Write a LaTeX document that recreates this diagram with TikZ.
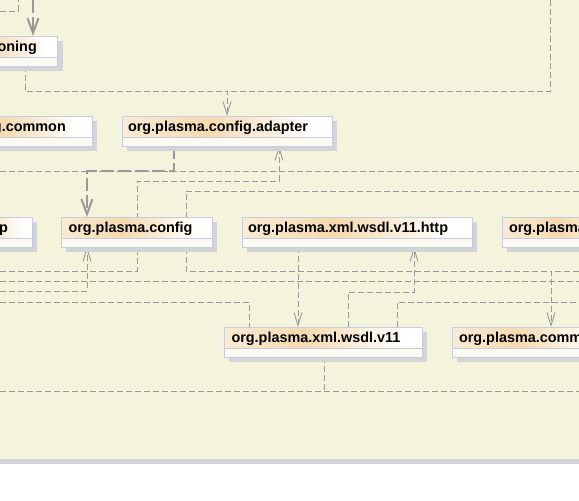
\documentclass[tikz,border=0pt]{standalone}
\usepackage{fontspec}
\setmainfont{Liberation Sans}
\usetikzlibrary{arrows.meta,shadows,calc}
\pgfdeclarelayer{back}
\pgfdeclarelayer{edges}
\pgfsetlayers{back,edges,main}
\definecolor{beigebg}{RGB}{244,244,220}
\definecolor{bandgrey}{RGB}{212,212,212}
\definecolor{bordc}{RGB}{199,204,224}
\definecolor{shadc}{RGB}{212,212,215}
\definecolor{linec}{RGB}{153,153,153}
\definecolor{bodyc}{RGB}{250,250,240}
\definecolor{hdrA}{RGB}{250,235,212}
\definecolor{hdrB}{RGB}{245,217,175}
\tikzset{
  pkg/.style={draw=bordc, line width=1pt, fill=bodyc, rectangle, anchor=north west,
    minimum height=30pt, inner sep=0pt, outer sep=0pt,
    general shadow={shadow xshift=5pt, shadow yshift=-4.5pt, fill=shadc},
    path picture={
      \coordinate (pw) at (path picture bounding box.north west);
      \coordinate (pe) at (path picture bounding box.north east);
      \shade[left color=hdrA, right color=hdrB] (pw) rectangle ($(pw)!0.405!(pe)+(0,-21pt)$);
      \shade[left color=hdrB, right color=white] ($(pw)!0.4!(pe)$) rectangle ($(pw)!0.905!(pe)+(0,-21pt)$);
      \fill[white] ($(pw)!0.9!(pe)$) rectangle ($(pe)+(0,-21pt)$);
      \draw[bordc, line width=1pt] ($(pw)+(0,-21pt)$) -- ($(pe)+(0,-21pt)$);
    }},
  txt/.style={font=\fontsize{14.4}{17}\selectfont\bfseries, inner sep=0pt, outer sep=0pt, anchor=base west},
  txtr/.style={txt, anchor=base east},
  dep/.style={draw=linec, line width=0.9pt, dash pattern=on 6pt off 3pt},
  deparr/.style={dep, -{Straight Barb[length=13pt,width=8pt]}},
  heavy/.style={draw=linec, line width=2pt, dash pattern=on 13pt off 4pt, -{Straight Barb[length=15pt,width=11pt]}},
}
\begin{document}
\begin{tikzpicture}[x=1pt,y=-1pt]
\useasboundingbox (0,0) rectangle (579,501);
\begin{pgfonlayer}{back}
  \fill[white] (0,0) rectangle (579,501);
  \fill[beigebg] (0,0) rectangle (579,459);
  \fill[bandgrey] (0,459) rectangle (579,464);
\end{pgfonlayer}
\clip (0,0) rectangle (579,501);
% packages
\node[pkg, minimum width=117.5pt] (oning) at (-60,36) {};
\node[pkg, minimum width=152pt] (gcom) at (-60,116) {};
\node[pkg, minimum width=210pt] (adp) at (122,116) {};
\node[pkg, minimum width=92pt] (pnode) at (-60,217) {};
\node[pkg, minimum width=151pt] (cfg) at (61,217) {};
\node[pkg, minimum width=230pt] (http) at (242,217) {};
\node[pkg, minimum width=140pt] (orgpl) at (502,217) {};
\node[pkg, minimum width=198pt] (wsdl) at (224,327) {};
\node[pkg, minimum width=160pt] (comm) at (452,327) {};
% labels
\node[txtr] (oningt) at (36.8,51.5) {oning};
\node[txtr] (gcomt) at (65.8,131.5) {g.common};
\node[txt] (adpt) at (128,131.5) {org.plasma.config.adapter};
\node[txtr] (pnodet) at (8,232.5) {p};
\node[txt] (cfgt) at (68.5,232.5) {org.plasma.config};
\node[txt] (httpt) at (248,232.5) {org.plasma.xml.wsdl.v11.http};
\node[txt] (orgplt) at (509,232.5) {org.plasma};
\node[txt] (wsdlt) at (231.5,342.5) {org.plasma.xml.wsdl.v11};
\node[txt] (commt) at (459,342.5) {org.plasma.comm};
% connectors
\begin{pgfonlayer}{edges}
  \clip (0,0) rectangle (579,501);
  \coordinate (t1) at (33,0);
  \coordinate (a0) at (0,11);
  \coordinate (a1) at (18.3,0);
  \coordinate (c25) at (25,91);
  \coordinate (c227) at (227,91);
  \coordinate (r0) at (550.5,0);
  \coordinate (l171) at (0,171);
  \coordinate (r171) at (579,171);
  \coordinate (c174) at (174,171);
  \coordinate (c87) at (87,171);
  \coordinate (l271) at (0,271);
  \coordinate (c137a) at (137,271);
  \coordinate (c137b) at (137,181);
  \coordinate (c279) at (279,181);
  \coordinate (r191) at (579,191);
  \coordinate (c186a) at (186,191);
  \coordinate (c186b) at (186,271);
  \coordinate (c551) at (551,271);
  \coordinate (r271) at (579,271);
  \coordinate (l281) at (0,281);
  \coordinate (r281) at (579,281);
  \coordinate (l291) at (0,291);
  \coordinate (c87b) at (87,291);
  \coordinate (c298) at (298,300);
  \coordinate (c348) at (348,292);
  \coordinate (c414) at (414,292);
  \coordinate (l302) at (0,302);
  \coordinate (c249) at (249,302);
  \coordinate (c397) at (397,302);
  \coordinate (r302) at (579,302);
  \coordinate (c324) at (324,391);
  \coordinate (l391) at (0,391);
  \coordinate (r391) at (579,391);
  \draw[heavy] (t1) -- (oning.north -| t1);
  \draw[dep] (a0) -| (a1);
  \draw[deparr] (oning.south -| c25) -- (c25) -- (c227) -- (adp.north -| c227);
  \draw[dep] (r0) |- (c227);
  \draw[dep] (l171) -- (r171);
  \draw[heavy] (adp.south -| c174) -- (c174) -- (c87) -- (cfg.north -| c87);
  \draw[deparr] (l271) -- (c137a) -- (c137b) -- (c279) -- (adp.south -| c279);
  \draw[deparr] (r191) -- (c186a) -- (c186b) -- (c551) -- (comm.north -| c551);
  \draw[dep] (r271) -- (c551);
  \draw[dep] (l281) -- (r281);
  \draw[deparr] (l291) -- (c87b) -- (cfg.south -| c87b);
  \draw[deparr] (http.south -| c298) -- (wsdl.north -| c298);
  \draw[deparr] (wsdl.north -| c348) -- (c348) -- (c414) -- (http.south -| c414);
  \draw[dep] (l302) -- (c249) -- (wsdl.north -| c249);
  \draw[dep] (wsdl.north -| c397) -- (c397) -- (r302);
  \draw[dep] (wsdl.south -| c324) -- (c324);
  \draw[dep] (l391) -- (r391);
\end{pgfonlayer}
\end{tikzpicture}
\end{document}
